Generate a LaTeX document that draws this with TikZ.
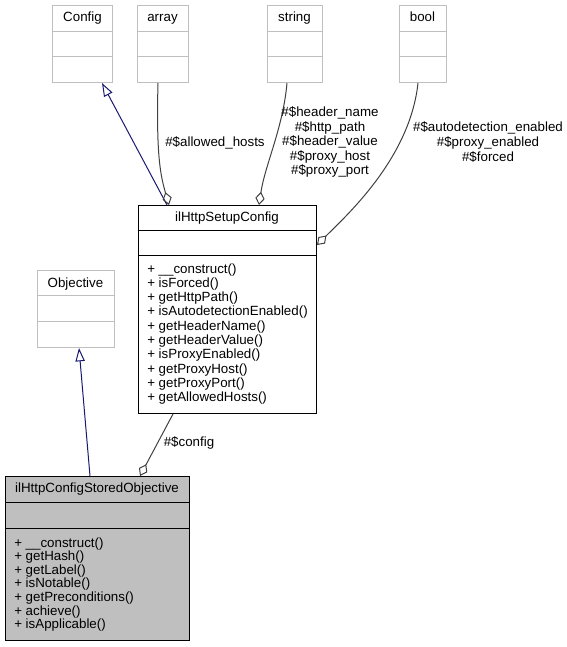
\documentclass[tikz,border=0pt]{standalone}
\usepackage{fontspec}
\setmainfont{Liberation Sans}
\usetikzlibrary{arrows.meta,calc}

\definecolor{boxgray}{RGB}{191,191,191}
\definecolor{edgegray}{RGB}{64,64,64}
\definecolor{inhblue}{RGB}{25,25,112}

\tikzset{
  cls/.style={draw=boxgray, line width=0.75pt, anchor=north west, inner sep=0pt},
  mainbox/.style={draw=black, line width=0.75pt, anchor=north west, inner sep=0pt},
  title/.style={anchor=base, font=\fontsize{10}{12}\selectfont, inner sep=0pt},
  meth/.style={anchor=base west, font=\fontsize{10}{12}\selectfont, inner sep=0pt},
  lbl/.style={font=\fontsize{10}{10.9}\selectfont, align=center, inner sep=0pt},
  inherit/.style={draw=inhblue, line width=0.75pt, -{Triangle[open, length=10pt, width=7pt]}},
  aggr/.style={draw=edgegray, line width=0.75pt, -{Diamond[open, length=10pt, width=7pt]}},
}

\begin{document}
\begin{tikzpicture}[x=0.75pt, y=-0.75pt]
  \useasboundingbox (0,0) rectangle (567,647);

  % top row
  \node[cls, minimum width=45pt, minimum height=57.75pt] (cfg) at (52,5) {};
  \node[cls, minimum width=38.25pt, minimum height=57.75pt] (arr) at (137,5) {};
  \node[cls, minimum width=41.25pt, minimum height=57.75pt] (str) at (267,5) {};
  \node[cls, minimum width=35.25pt, minimum height=57.75pt] (bool) at (399,5) {};
  \foreach \c in {cfg, arr, str, bool} {
    \draw[boxgray, line width=0.75pt] ($(\c.north west)+(0,26)$) -- ($(\c.north east)+(0,26)$);
    \draw[boxgray, line width=0.75pt] ($(\c.north west)+(0,51)$) -- ($(\c.north east)+(0,51)$);
  }
  \node[title] (cfgname) at (82.5,21) {Config};
  \node[title] (arrname) at (162.5,21) {array};
  \node[title] (strname) at (294.5,21) {string};
  \node[title] (boolname) at (422.5,21) {bool};

  % Objective
  \node[cls, minimum width=57.75pt, minimum height=57.75pt] (obj) at (37,270) {};
  \draw[boxgray, line width=0.75pt] ($(obj.north west)+(0,25)$) -- ($(obj.north east)+(0,25)$);
  \draw[boxgray, line width=0.75pt] ($(obj.north west)+(0,51)$) -- ($(obj.north east)+(0,51)$);
  \node[title] (objname) at (75.5,287) {Objective};

  % ilHttpSetupConfig
  \node[mainbox, minimum width=133.5pt, minimum height=156pt] (setup) at (138,205) {};
  \draw[line width=0.75pt] ($(setup.north west)+(0,25)$) -- ($(setup.north east)+(0,25)$);
  \draw[line width=0.75pt] ($(setup.north west)+(0,50)$) -- ($(setup.north east)+(0,50)$);
  \node[title] (setupname) at (227,221) {ilHttpSetupConfig};
  \foreach \m [count=\i from 0] in {\_\_construct(), isForced(), getHttpPath(),
      isAutodetectionEnabled(), getHeaderName(), getHeaderValue(), isProxyEnabled(),
      getProxyHost(), getProxyPort(), getAllowedHosts()} {
    \node[meth] (sm\i) at (147,{273+14.3*\i}) {+ \m};
  }

  % ilHttpConfigStoredObjective
  \node[mainbox, fill=boxgray, minimum width=138pt, minimum height=123pt] (stored) at (5,476) {};
  \draw[line width=0.75pt] ($(stored.north west)+(0,26.5)$) -- ($(stored.north east)+(0,26.5)$);
  \draw[line width=0.75pt] ($(stored.north west)+(0,52)$) -- ($(stored.north east)+(0,52)$);
  \node[title] (storedname) at (97,492) {ilHttpConfigStoredObjective};
  \foreach \m [count=\i from 0] in {\_\_construct(), getHash(), getLabel(), isNotable(),
      getPreconditions(), achieve(), isApplicable()} {
    \node[meth] (om\i) at (14,{547+13.6*\i}) {+ \m};
  }

  % connectors
  \draw[inherit] ($(setup.north west)+(29,0)$) -- ($(cfg.south west)+(50,0)$);
  \draw[aggr] ($(arr.south west)+(21,0)$) .. controls +(-2,75) and +(-8,-28) .. ($(setup.north west)+(31,0)$);
  \draw[aggr] ($(str.south west)+(20,0)$) .. controls +(-4,45) and +(6,-40) .. ($(setup.north west)+(121,0)$);
  \draw[aggr] ($(bool.south west)+(19,0)$) .. controls +(-8,75) and +(30,-30) .. ($(setup.north east)+(0,40)$);
  \draw[inherit] ($(stored.north west)+(85,0)$) -- ($(obj.south west)+(42,0)$);
  \draw[aggr] ($(setup.south west)+(35,0)$) -- ($(stored.north west)+(135,0)$);

  % labels
  \node[lbl] (lhosts) at (215,143) {\#\$allowed\_hosts};
  \node[lbl] (lstr) at (330,142) {\#\$header\_name\\\#\$http\_path\\\#\$header\_value\\\#\$proxy\_host\\\#\$proxy\_port};
  \node[lbl] (lbool) at (488,142) {\#\$autodetection\_enabled\\\#\$proxy\_enabled\\\#\$forced};
  \node[lbl] (lcfg) at (189,443) {\#\$config};
\end{tikzpicture}
\end{document}
